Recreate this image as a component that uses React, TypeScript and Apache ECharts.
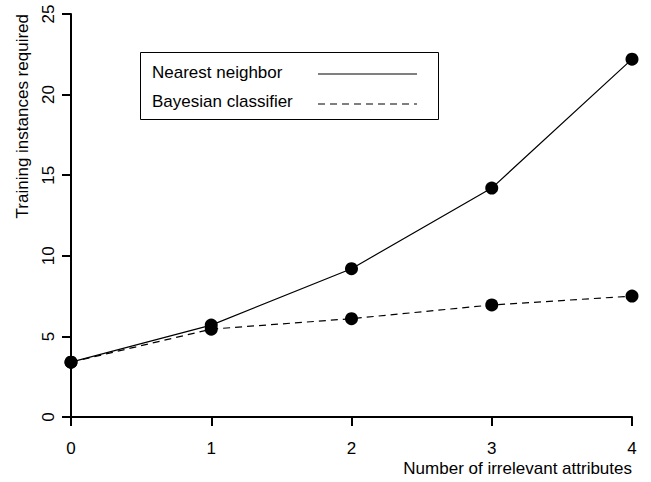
import React, { useEffect, useRef } from "react";
import * as echarts from "echarts";

const xValues = [0, 1, 2, 3, 4];
const nearestNeighbor = [3.4, 5.7, 9.2, 14.2, 22.2];
const bayesian = [3.4, 5.45, 6.1, 6.95, 7.5];
const seriesNames = ["Nearest neighbor", "Bayesian classifier"];
const xAxisTitle = "Number of irrelevant attributes";
const yAxisTitle = "Training instances required";

const FONT = "'Liberation Sans', Arial, sans-serif";

export default function App() {
  const ref = useRef<HTMLDivElement>(null);
  useEffect(() => {
    if (!ref.current) return;
    const chart = echarts.init(ref.current, undefined, { renderer: "svg" });
    const axisCommon = {
      axisLine: { show: true, onZero: false, lineStyle: { color: "#000", width: 2 } },
      axisTick: { show: true, length: 9, lineStyle: { color: "#000", width: 2 } },
      splitLine: { show: false },
    };
    chart.setOption({
      animation: false,
      backgroundColor: "#fff",
      textStyle: { fontFamily: FONT },
      grid: { left: 71, right: 19, top: 14, bottom: 65, outerBoundsMode: "none" },
      xAxis: {
        type: "value",
        min: 0,
        max: 4,
        interval: 1,
        ...axisCommon,
        axisLabel: { color: "#000", fontSize: 17, fontFamily: FONT, margin: 23 },
      },
      yAxis: {
        type: "value",
        min: 0,
        max: 25,
        interval: 5,
        ...axisCommon,
        axisLabel: { color: "#000", fontSize: 17, fontFamily: FONT, rotate: 90, margin: 14 },
      },
      series: [
        {
          name: seriesNames[0],
          type: "line",
          data: xValues.map((x, i) => [x, nearestNeighbor[i]]),
          symbol: "circle",
          symbolSize: 13,
          itemStyle: { color: "#000" },
          lineStyle: { color: "#000", width: 1.2 },
        },
        {
          name: seriesNames[1],
          type: "line",
          data: xValues.map((x, i) => [x, bayesian[i]]),
          symbol: "circle",
          symbolSize: 13,
          itemStyle: { color: "#000" },
          lineStyle: { color: "#000", width: 1.2, type: [7, 5] },
        },
      ],
      graphic: [
        {
          type: "rect",
          shape: { x: 140.5, y: 52.5, width: 298, height: 67 },
          style: { fill: "#fff", stroke: "#000", lineWidth: 1 },
          z: 10,
        },
        {
          type: "text",
          x: 152,
          y: 72,
          style: { text: seriesNames[0], fill: "#000", fontSize: 17, fontFamily: FONT, textVerticalAlign: "middle" },
          z: 11,
        },
        {
          type: "text",
          x: 152,
          y: 101,
          style: { text: seriesNames[1], fill: "#000", fontSize: 17, fontFamily: FONT, textVerticalAlign: "middle" },
          z: 11,
        },
        {
          type: "line",
          shape: { x1: 318, y1: 74, x2: 417, y2: 74 },
          style: { stroke: "#000", lineWidth: 1.2 },
          z: 11,
        },
        {
          type: "line",
          shape: { x1: 318, y1: 104, x2: 417, y2: 104 },
          style: { stroke: "#000", lineWidth: 1.2, lineDash: [7, 5] },
          z: 11,
        },
        {
          type: "text",
          x: 632,
          y: 468,
          style: { text: xAxisTitle, fill: "#000", fontSize: 17, fontFamily: FONT, textAlign: "right", textVerticalAlign: "middle" },
        },
        {
          type: "text",
          x: 22,
          y: 14,
          rotation: Math.PI / 2,
          style: { text: yAxisTitle, fill: "#000", fontSize: 17, fontFamily: FONT, textAlign: "right", textVerticalAlign: "middle" },
        },
      ],
    });
    return () => chart.dispose();
  }, []);
  return (
    <div
      ref={ref}
      style={{ position: "fixed", left: 0, top: 0, width: 651, height: 482 }}
    />
  );
}
